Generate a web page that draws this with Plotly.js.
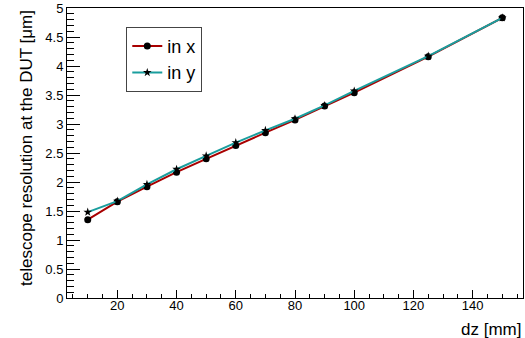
<!DOCTYPE html>
<html>
<head>
<meta charset="utf-8">
<script src="https://cdn.plot.ly/plotly-3.0.1.min.js"></script>
<style>html,body{margin:0;padding:0;background:#fff;}#chart{width:525px;height:338px;}</style>
</head>
<body>
<div id="chart"></div>
<script>
var dz = [10, 20, 30, 40, 50, 60, 70, 80, 90, 100, 125, 150];
var resX = [1.35, 1.66, 1.92, 2.17, 2.40, 2.63, 2.85, 3.07, 3.31, 3.54, 4.16, 4.83];
var resY = [1.48, 1.67, 1.96, 2.22, 2.45, 2.68, 2.89, 3.09, 3.32, 3.57, 4.17, 4.83];
var seriesNames = ["in x", "in y"];
var xTitle = "dz [mm]";
var yTitle = "telescope resolution at the DUT [μm]";

var font = "Liberation Sans, Arial, sans-serif";

var traces = [
  {
    x: dz, y: resX, name: seriesNames[0], type: "scatter", mode: "lines+markers",
    line: {color: "#a80000", width: 2},
    marker: {symbol: "circle", size: 7, color: "#000"}
  },
  {
    x: dz, y: resY, name: seriesNames[1], type: "scatter", mode: "lines+markers",
    line: {color: "#1a9e9e", width: 2},
    marker: {symbol: "star", size: 6.5, color: "#000"}
  }
];

var layout = {
  width: 525, height: 338,
  margin: {l: 67, r: 2, t: 8, b: 40},
  paper_bgcolor: "#fff", plot_bgcolor: "#fff",
  font: {family: font, color: "#000", size: 13},
  showlegend: true,
  legend: {
    x: 0.13, y: 0.935, xanchor: "left", yanchor: "top",
    bgcolor: "#fff", bordercolor: "#444", borderwidth: 1,
    font: {family: font, size: 18, color: "#000"},
    itemwidth: 30, tracegroupgap: 0
  },
  xaxis: {
    range: [3, 157], tick0: 0, dtick: 20,
    ticks: "inside", ticklen: 8, tickwidth: 1, tickcolor: "#000",
    minor: {dtick: 5, ticks: "inside", ticklen: 4, tickcolor: "#000", tickwidth: 1},
    showline: true, linecolor: "#000", linewidth: 1, mirror: true,
    showgrid: false, zeroline: false, ticklabelstandoff: -5,
    tickfont: {family: font, size: 13}
  },
  yaxis: {
    range: [0, 5], tick0: 0, dtick: 0.5,
    ticks: "inside", ticklen: 13, tickwidth: 1, tickcolor: "#000",
    minor: {dtick: 0.1, ticks: "inside", ticklen: 7, tickcolor: "#000", tickwidth: 1},
    showline: true, linecolor: "#000", linewidth: 1, mirror: true,
    showgrid: false, zeroline: false,
    tickfont: {family: font, size: 13}
  },
  annotations: [
    {
      text: xTitle, xref: "paper", yref: "paper", x: 1, y: 0,
      xanchor: "right", yanchor: "top", yshift: -20, showarrow: false,
      font: {family: font, size: 17}
    },
    {
      text: yTitle, xref: "paper", yref: "paper", x: -0.09, y: 1,
      xanchor: "center", yanchor: "top", textangle: -90, showarrow: false,
      font: {family: font, size: 17}
    }
  ]
};

Plotly.newPlot("chart", traces, layout, {staticPlot: true, displayModeBar: false});
</script>
</body>
</html>
